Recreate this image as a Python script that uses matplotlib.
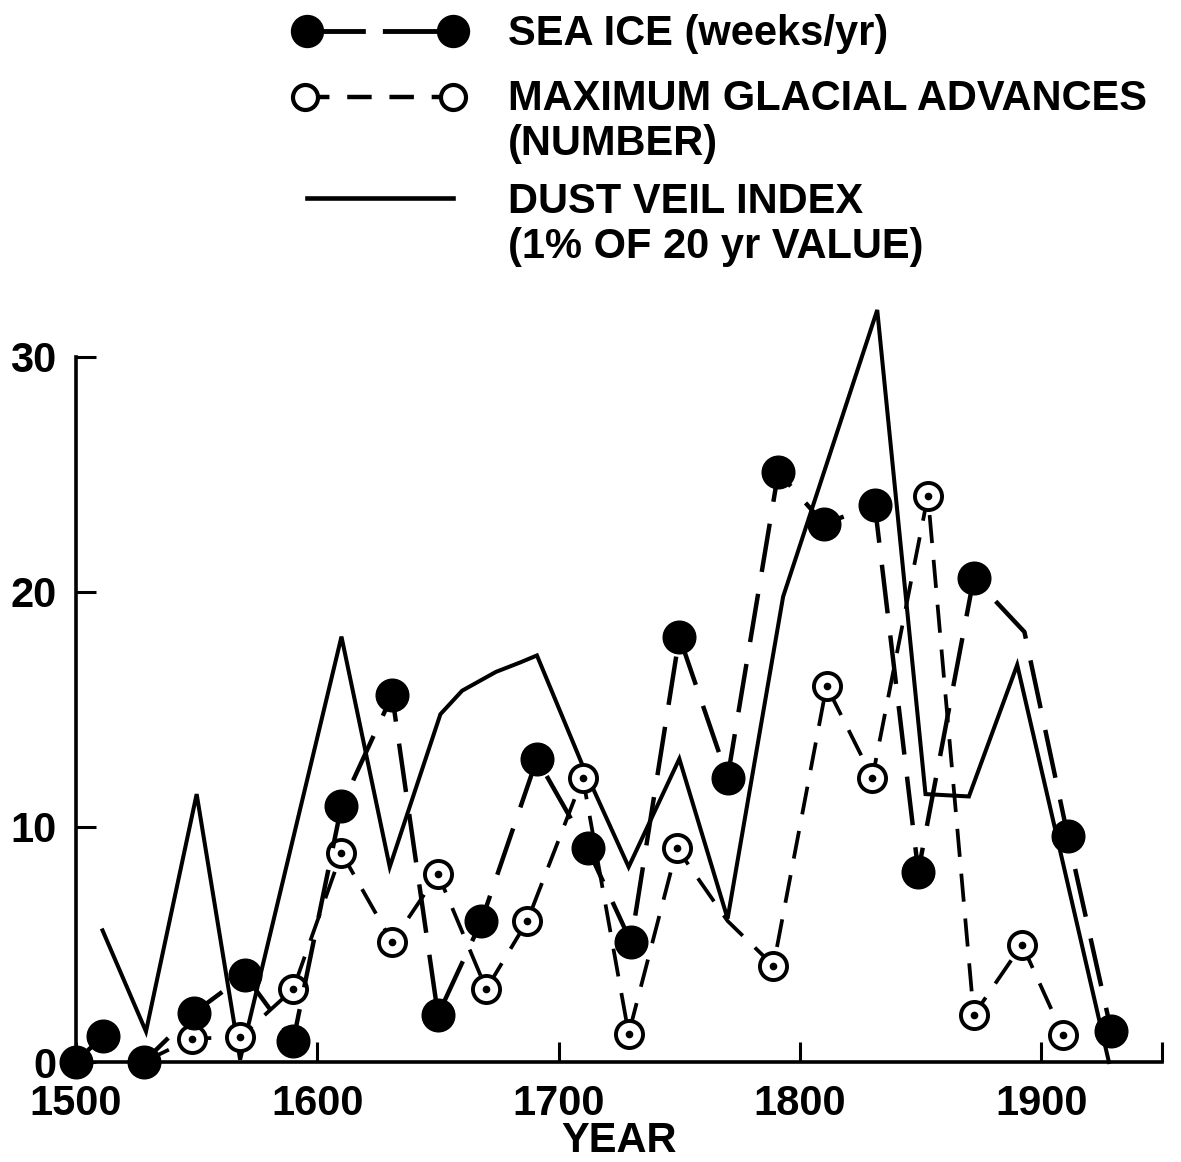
import matplotlib
matplotlib.use("Agg")
import matplotlib.pyplot as plt
from matplotlib.lines import Line2D

# ---------------- data ----------------
sea_years = [1500, 1511, 1528, 1549, 1570, 1590, 1610, 1631, 1650, 1668, 1691, 1712,
             1730, 1750, 1770, 1791, 1810, 1831, 1849, 1872, 1893, 1911, 1929]
sea_ice = [0, 1.1, 0, 2.1, 3.7, 0.9, 10.9, 15.6, 2.0, 6.0, 12.9, 9.1,
           5.1, 18.1, 12.1, 25.1, 22.9, 23.7, 8.1, 20.6, 18.3, 9.6, 1.3]
sea_unmarked = [1893]

gl_years = [1528, 1548, 1568, 1590, 1610, 1631, 1650, 1670, 1687, 1710, 1729, 1749,
            1770, 1789, 1811, 1830, 1853, 1872, 1892, 1909]
glacial = [0, 1.0, 1.05, 3.1, 8.9, 5.1, 8.0, 3.1, 6.0, 12.1, 1.2, 9.1,
           6.0, 4.1, 16.0, 12.1, 24.1, 2.0, 5.0, 1.15]
gl_unmarked = [1770]

dust_years = [1511, 1529, 1550, 1568, 1610, 1630, 1651, 1660, 1674, 1684, 1691, 1710,
              1729, 1750, 1770, 1793, 1832, 1852, 1870, 1890, 1928]
dust = [5.6, 1.3, 11.4, 0.1, 18.1, 8.3, 14.8, 15.8, 16.6, 17.0, 17.3, 12.6,
        8.3, 12.9, 6.1, 19.8, 32.0, 11.4, 11.3, 16.9, 0.0]

x_ticks = [1500, 1600, 1700, 1800, 1900, 1950]
x_tick_labels = ["1500", "1600", "1700", "1800", "1900", ""]
y_ticks = [0, 10, 20, 30]
y_tick_labels = ["0", "10", "20", "30"]

legend_lines = [["SEA ICE (weeks/yr)"],
                ["MAXIMUM GLACIAL ADVANCES", "(NUMBER)"],
                ["DUST VEIL INDEX", "(1% OF 20 yr VALUE)"]]
x_label = "YEAR"

# ---------------- style ----------------
FONT = "Liberation Sans"
FS = 30
W, H = 1181, 1162
plt.rcParams["font.family"] = [FONT, "DejaVu Sans"]
plt.rcParams["font.weight"] = "bold"

fig = plt.figure(figsize=(W / 100, H / 100), dpi=100)
ax = fig.add_axes([76 / W, 1 - 1062 / H, 1086 / W, (1062 - 357) / H])

sea_style = dict(color="black", lw=3.2, linestyle=(0, (11, 5)))
gl_style = dict(color="black", lw=2.7, linestyle=(0, (7.5, 4.5)))

# dust veil index (solid)
ax.plot(dust_years, dust, color="black", lw=2.9, solid_joinstyle="miter",
        clip_on=False, zorder=2)

# glacial advances (open circles with center dot)
gl_marked = [i for i, y in enumerate(gl_years) if y not in gl_unmarked]
ax.plot(gl_years, glacial, **gl_style, marker="o", markersize=19.5,
        markerfacecolor="white", markeredgecolor="black", markeredgewidth=2.8,
        markevery=gl_marked, clip_on=False, zorder=3)
ax.plot([gl_years[i] for i in gl_marked], [glacial[i] for i in gl_marked],
        linestyle="none", marker="o", markersize=4.5, color="black",
        clip_on=False, zorder=4)

# sea ice (filled circles)
sea_marked = [i for i, y in enumerate(sea_years) if y not in sea_unmarked]
ax.plot(sea_years, sea_ice, **sea_style, marker="o", markersize=23.5,
        markerfacecolor="black", markeredgecolor="black",
        markevery=sea_marked, clip_on=False, zorder=5)

ax.set_xlim(1500, 1950)
ax.set_ylim(0, 30)
for s in ["top", "right"]:
    ax.spines[s].set_visible(False)
for s in ["left", "bottom"]:
    ax.spines[s].set_linewidth(2.6)
ax.set_xticks(x_ticks, x_tick_labels)
ax.set_yticks(y_ticks, y_tick_labels)
ax.tick_params(axis="both", direction="in", length=14.5, width=2.2,
               labelsize=FS)
ax.tick_params(axis="x", pad=16)
ax.tick_params(axis="y", pad=14)
for lab in ax.get_xticklabels() + ax.get_yticklabels():
    lab.set_fontweight("bold")
ax.set_xlabel(x_label, fontsize=FS, fontweight="bold", labelpad=-2)

# ---------------- legend (drawn in pixel coordinates) ----------------
lg = fig.add_axes([0, 0, 1, 1])
lg.set_xlim(0, W)
lg.set_ylim(H, 0)
lg.axis("off")
lg.patch.set_alpha(0)

lg.add_line(Line2D([307, 453], [31, 31], color="black", lw=3.5,
                   linestyle=(0, (12, 3.5)), marker="o", markersize=23,
                   markerfacecolor="black", markeredgecolor="black"))
lg.add_line(Line2D([305, 453], [97, 97], color="black", lw=3.2,
                   linestyle=(0, (5.5, 4)), marker="o", markersize=18,
                   markerfacecolor="white", markeredgecolor="black",
                   markeredgewidth=3.0))
lg.add_line(Line2D([307, 453], [198, 198], color="black", lw=3.3))

text_kw = dict(fontsize=FS, fontweight="bold", ha="left", va="baseline")
baselines = [[45], [110, 155], [213, 258]]
for lines, ys in zip(legend_lines, baselines):
    for txt, yb in zip(lines, ys):
        lg.text(508, yb, txt, **text_kw)

fig.savefig("out.png", dpi=100)
